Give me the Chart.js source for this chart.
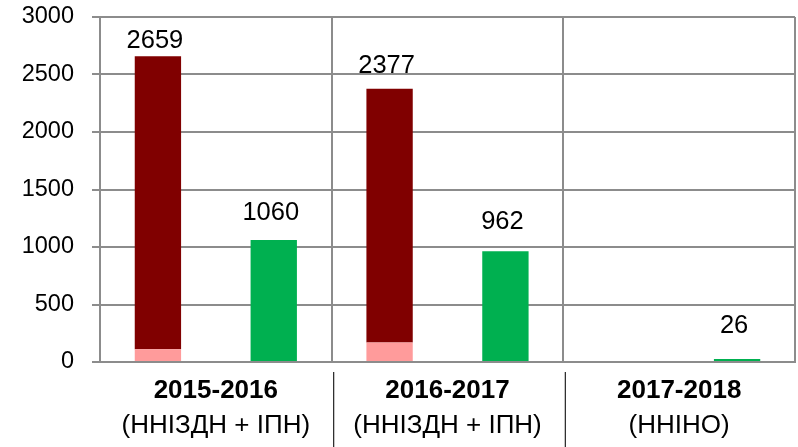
<!DOCTYPE html>
<html>
<head>
<meta charset="utf-8">
<script src="https://cdn.jsdelivr.net/npm/chart.js@4/dist/chart.umd.min.js"></script>
<style>
  html, body { margin: 0; padding: 0; background: #fff; }
  #wrap { width: 798px; height: 447px; }
</style>
</head>
<body>
<div id="wrap"><canvas id="chart" width="798" height="447"></canvas></div>
<script>
// дані з діаграми
const years = ['2015-2016', '2016-2017', '2017-2018'];
const programs = ['(ННІЗДН + ІПН)', '(ННІЗДН + ІПН)', '(ННІНО)'];
const totalRed = [2659, 2377, 0];
const pinkPart = [110, 170, 0];
const greenVals = [1060, 962, 26];
const yTicks = [0, 500, 1000, 1500, 2000, 2500, 3000];

const redPart = totalRed.map((t, i) => t - pinkPart[i]);

const FONT = "'Liberation Sans', Arial, sans-serif";
const GRID = '#8c8c8c';

// підписи значень над стовпцями
const valueLabels = {
    id: 'valueLabels',
    afterDatasetsDraw(chart) {
        const ctx = chart.ctx;
        ctx.save();
        ctx.font = '25.5px ' + FONT;
        ctx.fillStyle = '#000';
        ctx.textAlign = 'center';
        ctx.textBaseline = 'alphabetic';
        const redGap = [8, 16, 0];
        const greenGap = [20, 22, 26];
        chart.getDatasetMeta(1).data.forEach((bar, i) => {
            if (!totalRed[i]) return;
            ctx.fillText(String(totalRed[i]), bar.x - 3, bar.y - redGap[i]);
        });
        chart.getDatasetMeta(2).data.forEach((bar, i) => {
            if (!greenVals[i]) return;
            ctx.fillText(String(greenVals[i]), bar.x - 3, bar.y - greenGap[i]);
        });
        ctx.restore();
    }
};

// розділювачі під віссю X
const separators = {
    id: 'separators',
    afterDraw(chart) {
        const x = chart.scales.x;
        const ctx = chart.ctx;
        ctx.save();
        ctx.strokeStyle = '#222';
        ctx.lineWidth = 1.2;
        for (let i = 1; i < years.length; i++) {
            const px = (x.getPixelForValue(i - 1) + x.getPixelForValue(i)) / 2 + 2;
            ctx.beginPath();
            ctx.moveTo(px, chart.chartArea.bottom + 10);
            ctx.lineTo(px, 447);
            ctx.stroke();
        }
        ctx.restore();
    }
};

new Chart(document.getElementById('chart'), {
    type: 'bar',
    data: {
        labels: years,
        datasets: [
            { data: pinkPart, backgroundColor: '#ff9b9b', stack: 'a' },
            { data: redPart, backgroundColor: '#800000', stack: 'a' },
            { data: greenVals, backgroundColor: '#00b050', stack: 'b' }
        ]
    },
    options: {
        responsive: false,
        animation: false,
        categoryPercentage: 1.0,
        barPercentage: 0.4,
        layout: { padding: { top: 17, right: 3, left: 0, bottom: 0 } },
        plugins: {
            legend: { display: false },
            tooltip: { enabled: false }
        },
        scales: {
            x: {
                stacked: true,
                weight: 1,
                grid: { color: GRID, lineWidth: 2, drawTicks: false, offset: true },
                border: { color: GRID, width: 2 },
                ticks: {
                    color: '#000',
                    font: { family: FONT, size: 26, weight: 'bold' },
                    padding: 13
                },
                afterFit(s) { s.height = 48; s.paddingLeft = 0; s.paddingRight = 0; }
            },
            x2: {
                type: 'category',
                position: 'bottom',
                labels: programs,
                weight: 2,
                grid: { display: false, drawTicks: false },
                border: { display: false },
                ticks: {
                    color: '#000',
                    font: { family: FONT, size: 26 },
                    padding: 0
                },
                afterFit(s) { s.height = 37; s.paddingLeft = 0; s.paddingRight = 0; }
            },
            y: {
                min: 0,
                max: 3000,
                afterBuildTicks(s) { s.ticks = yTicks.map(v => ({ value: v })); },
                grid: { color: GRID, lineWidth: 2, tickLength: 8 },
                border: { color: GRID, width: 2 },
                ticks: {
                    color: '#000',
                    font: { family: FONT, size: 23.5 },
                    padding: 18,
                    callback: v => String(v)
                },
                afterFit(s) { s.width = 100; s.paddingTop = 0; s.paddingBottom = 0; }
            }
        }
    },
    plugins: [valueLabels, separators]
});
</script>
</body>
</html>
